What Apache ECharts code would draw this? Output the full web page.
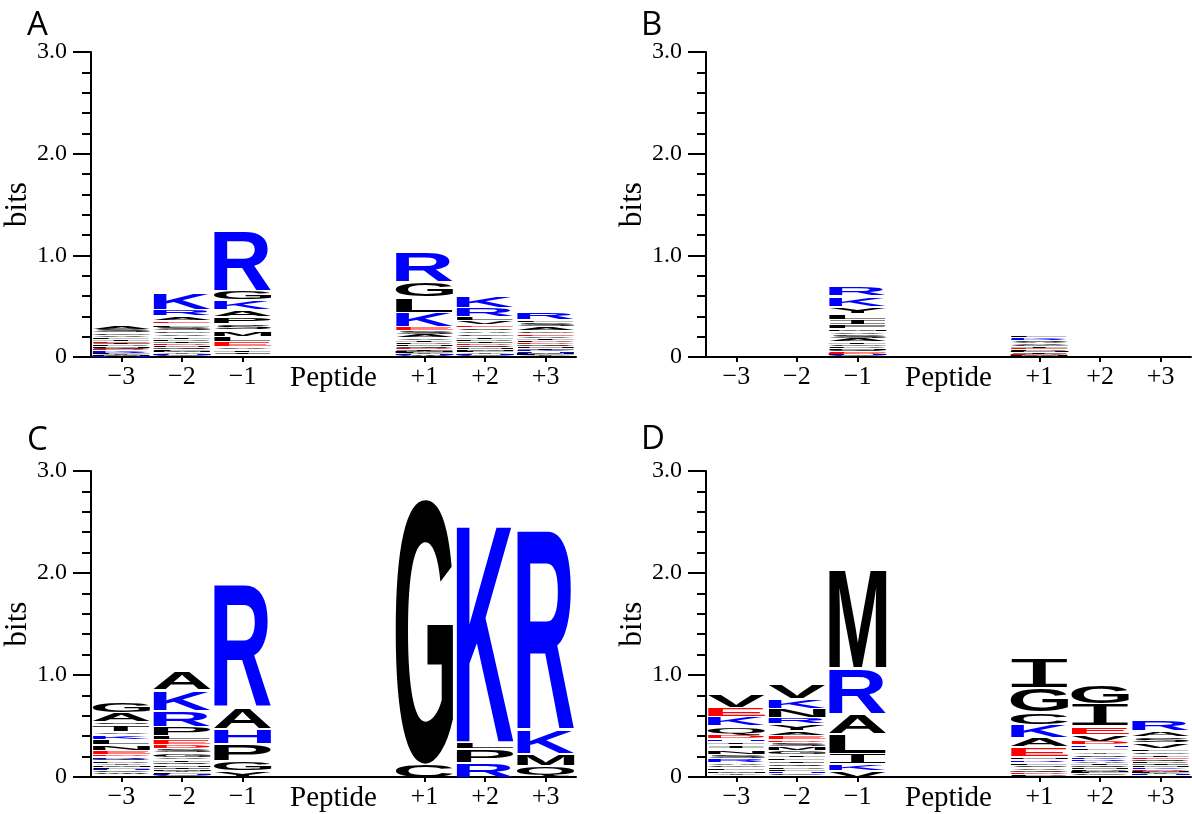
<!DOCTYPE html>
<html><head><meta charset="utf-8">
<script src="https://cdn.jsdelivr.net/npm/echarts@6/dist/echarts.min.js"></script>
<style>html,body{margin:0;padding:0;background:#fff}#c{width:1192px;height:814px}</style>
</head><body><div id="c"></div>
<script>
// ---- axis data ----
const positions = [1, 2, 3, 6, 7, 8];
const posLabels = ['−3', '−2', '−1', '+1', '+2', '+3'];
const peptidePos = 4.5;
const peptideLabel = 'Peptide';
const panelNames = ['A', 'B', 'C', 'D'];
const yTickValues = [0, 1, 2, 3];
const yTickLabels = ['0', '1.0', '2.0', '3.0'];

// ---- letter stacks (top to bottom), [letter, bits] ----
// Panel A
const A_m3 = [['A',.05],['S',.035],['G',.025],['V',.02],['L',.02],['T',.02],['E',.02],['I',.015],['P',.015],['N',.015],['Q',.015],['D',.012],['K',.012],['R',.012],['F',.012],['Y',.01],['M',.01],['H',.01]];
const A_m2 = [['K',.17],['R',.065],['A',.05],['E',.03],['L',.03],['S',.035],['G',.03],['V',.03],['T',.025],['P',.025],['I',.02],['D',.02],['N',.02],['Q',.02],['F',.015],['M',.015],['Y',.015],['H',.01],['C',.01],['W',.01]];
const A_m1 = [['R',.58],['G',.09],['K',.10],['A',.07],['P',.07],['S',.06],['M',.06],['L',.05],['E',.05],['V',.03],['T',.03],['I',.025],['Q',.025]];
const A_p1 = [['R',.29],['G',.15],['L',.15],['K',.14],['E',.04],['S',.035],['A',.035],['V',.03],['T',.02],['P',.02],['N',.02],['Q',.015],['D',.015],['I',.015],['M',.01],['F',.01],['Y',.01],['H',.01],['W',.01],['C',.01]];
const A_p2 = [['K',.115],['R',.09],['L',.04],['V',.035],['E',.03],['S',.03],['A',.03],['G',.03],['T',.025],['P',.025],['I',.02],['D',.02],['Q',.02],['N',.02],['M',.015],['F',.015],['Y',.015],['H',.01],['C',.01],['W',.01]];
const A_p3 = [['R',.08],['L',.025],['S',.04],['A',.04],['G',.03],['E',.025],['V',.025],['T',.02],['P',.02],['D',.02],['Q',.02],['N',.02],['I',.015],['K',.015],['H',.015],['M',.01],['F',.01],['Y',.01],['W',.01]];
// Panel B
const B_m3 = [];
const B_m2 = [];
const B_m1 = [['R',.09],['K',.10],['Y',.07],['L',.06],['I',.05],['F',.04],['M',.03],['V',.03],['S',.035],['A',.035],['T',.025],['G',.025],['P',.02],['N',.015],['Q',.015],['E',.015],['D',.01],['H',.01],['C',.01],['W',.01]];
const B_p1 = [['L',.02],['K',.02],['R',.015],['S',.015],['A',.015],['V',.015],['G',.015],['T',.015],['E',.015],['P',.015],['N',.01],['Q',.01],['I',.01],['D',.01],['M',.01],['F',.01]];
const B_p2 = [];
const B_p3 = [];
// Panel C
const C_m3 = [['G',.115],['A',.09],['S',.03],['T',.07],['V',.03],['K',.045],['L',.05],['N',.06],['E',.035],['D',.02],['R',.03],['Q',.02],['P',.02],['Y',.02],['M',.02],['F',.02],['H',.015],['C',.015],['W',.02],['I',.03]];
const C_m2 = [['A',.19],['K',.20],['R',.16],['P',.09],['L',.04],['E',.05],['D',.04],['S',.04],['G',.04],['V',.025],['T',.025],['Q',.025],['N',.025],['I',.02],['M',.02],['Y',.015],['F',.015],['H',.01],['C',.01],['W',.01]];
const C_m1 = [['R',1.2],['A',.21],['H',.15],['P',.17],['G',.10],['Y',.065]];
const C_p1 = [['G',2.61],['C',.13]];
const C_p2 = [['K',2.15],['L',.07],['P',.13],['R',.15]];
const C_p3 = [['R',1.95],['K',.24],['M',.12],['Q',.12]];
// Panel D
const D_m3 = [['V',.13],['E',.09],['K',.09],['Q',.09],['D',.04],['H',.03],['T',.03],['I',.04],['N',.05],['S',.04],['R',.04],['A',.03],['G',.02],['L',.03],['M',.03],['Y',.02],['P',.02]];
const D_m2 = [['V',.14],['K',.09],['N',.09],['R',.065],['Y',.065],['A',.045],['E',.04],['D',.03],['S',.04],['M',.04],['G',.04],['T',.03],['L',.03],['I',.03],['Q',.03],['P',.025],['F',.02],['H',.02],['C',.02],['W',.02]];
const D_m1 = [['M',.97],['R',.45],['A',.20],['L',.19],['I',.10],['K',.075],['V',.065]];
const D_p1 = [['I',.294],['G',.24],['C',.12],['K',.13],['A',.09],['E',.09],['N',.03],['R',.03],['L',.03],['S',.025],['V',.025],['Q',.02],['D',.02],['P',.02],['T',.01]];
const D_p2 = [['G',.19],['I',.22],['E',.08],['V',.07],['D',.035],['H',.03],['L',.03],['Y',.03],['S',.03],['K',.02],['R',.02],['A',.02],['T',.02],['Q',.02],['N',.02],['P',.02],['M',.01],['F',.01],['C',.02],['W',.02]];
const D_p3 = [['R',.10],['A',.06],['S',.06],['V',.06],['L',.03],['G',.03],['T',.03],['E',.02],['Q',.02],['P',.02],['I',.02],['N',.02],['K',.02],['D',.015],['M',.015],['F',.01],['Y',.01],['H',.01],['C',.015]];

const panels = [
  [A_m3, A_m2, A_m1, A_p1, A_p2, A_p3],
  [B_m3, B_m2, B_m1, B_p1, B_p2, B_p3],
  [C_m3, C_m2, C_m1, C_p1, C_p2, C_p3],
  [D_m3, D_m2, D_m1, D_p1, D_p2, D_p3]
];

// ---- styling ----
const BLUE = '#0000ff', RED = '#ff0000', BLACK = '#000000';
const blueSet = 'KRH', redSet = 'DE';
const SANS = 'bold 100px "Liberation Sans"';
const MONO = '100px "Liberation Mono"';
const COL_W = 0.95;
const SERIF = '"Liberation Serif", "Times New Roman", serif';

const mctx = document.createElement('canvas').getContext('2d');
const mcache = {};
function metrics(ch) {
  if (mcache[ch]) return mcache[ch];
  const font = ch === 'I' ? MONO : SANS;
  mctx.font = font; mctx.textBaseline = 'middle'; mctx.textAlign = 'left';
  const t = mctx.measureText(ch);
  const m = { font, left: t.actualBoundingBoxLeft, right: t.actualBoundingBoxRight,
              asc: t.actualBoundingBoxAscent, desc: t.actualBoundingBoxDescent };
  m.w = m.left + m.right; m.h = m.asc + m.desc;
  mcache[ch] = m; return m;
}
function colorOf(ch) { return blueSet.includes(ch) ? BLUE : redSet.includes(ch) ? RED : BLACK; }

const grids = [
  { left: 91, top: 52, width: 485, height: 305 },
  { left: 706, top: 52, width: 485, height: 305 },
  { left: 91, top: 471, width: 485, height: 306 },
  { left: 706, top: 471, width: 485, height: 306 }
];
const titlePos = [[27, 26], [641, 26], [27, 441], [641, 440]];

const allLabelVals = [1, 2, 3, peptidePos, 6, 7, 8];
function xLabel(v) {
  if (Math.abs(v - peptidePos) < 1e-6) return '{p|' + peptideLabel + '}';
  const i = positions.indexOf(v);
  return i >= 0 ? posLabels[i] : '';
}

const xAxes = [], yAxes = [], series = [];
panels.forEach((cols, g) => {
  xAxes.push({
    gridIndex: g, type: 'value', min: 0.5, max: 8.5,
    splitLine: { show: false },
    axisLine: { show: true, onZero: false, lineStyle: { color: '#000', width: 2 } },
    axisTick: { show: true, customValues: positions, length: 5, lineStyle: { color: '#000', width: 2 } },
    axisLabel: { show: true, customValues: allLabelVals, formatter: xLabel, margin: 7,
                 color: '#000', fontFamily: SERIF, fontSize: 26,
                 rich: { p: { fontFamily: SERIF, fontSize: 29, color: '#000', padding: [0, 0, 2, 0] } } }
  });
  yAxes.push({
    gridIndex: g, type: 'value', min: 0, max: 3, interval: 1,
    name: 'bits', nameLocation: 'middle', nameRotate: 90, nameGap: 54,
    nameTextStyle: { color: '#000', fontFamily: SERIF, fontSize: 31 },
    splitLine: { show: false },
    axisLine: { show: true, lineStyle: { color: '#000', width: 2 } },
    axisTick: { show: true, length: 18, lineStyle: { color: '#000', width: 2 } },
    minorTick: { show: true, splitNumber: 5, length: 9, lineStyle: { color: '#000', width: 2 } },
    axisLabel: { margin: 24, color: '#000', fontFamily: SERIF, fontSize: 24,
                 formatter: v => yTickLabels[yTickValues.indexOf(v)] }
  });
  const data = [], letters = [];
  cols.forEach((stack, ci) => {
    let y = 0;
    stack.slice().reverse().forEach(([ch, h]) => {
      data.push([positions[ci], y, y + h]);
      letters.push(ch);
      y += h;
    });
  });
  series.push({
    type: 'custom', xAxisIndex: g, yAxisIndex: g, silent: true, clip: false,
    encode: { x: 0, y: [1, 2] },
    data,
    renderItem: function (params, api) {
      const x = api.value(0), y0 = api.value(1), y1 = api.value(2);
      const ch = letters[params.dataIndex];
      const p0 = api.coord([x - COL_W / 2, y1]);
      const p1 = api.coord([x + COL_W / 2, y0]);
      const rw = p1[0] - p0[0], rhFull = p1[1] - p0[1];
      const gap = Math.min(2, rhFull * 0.45);
      const rh = rhFull - gap;
      const top = p0[1] + gap;
      const m = metrics(ch);
      const sx = rw / m.w, sy = rh / m.h;
      return {
        type: 'text', x: p0[0] + m.left * sx, y: top + m.asc * sy, scaleX: sx, scaleY: sy,
        style: { text: ch, x: 0, y: 0, font: m.font, fill: colorOf(ch),
                 align: 'left', verticalAlign: 'middle', textAlign: 'left', textVerticalAlign: 'middle' }
      };
    }
  });
});

const chart = echarts.init(document.getElementById('c'), null, { renderer: 'canvas' });
chart.setOption({
  animation: false,
  backgroundColor: '#fff',
  grid: grids,
  xAxis: xAxes,
  yAxis: yAxes,
  series,
  graphic: panelNames.map((n, i) => ({
    type: 'text', x: titlePos[i][0], y: titlePos[i][1], silent: true,
    style: { text: n, font: '33px "Open Sans"', fill: '#000', align: 'left', verticalAlign: 'middle',
             textAlign: 'left', textVerticalAlign: 'middle' }
  }))
});
</script></body></html>
